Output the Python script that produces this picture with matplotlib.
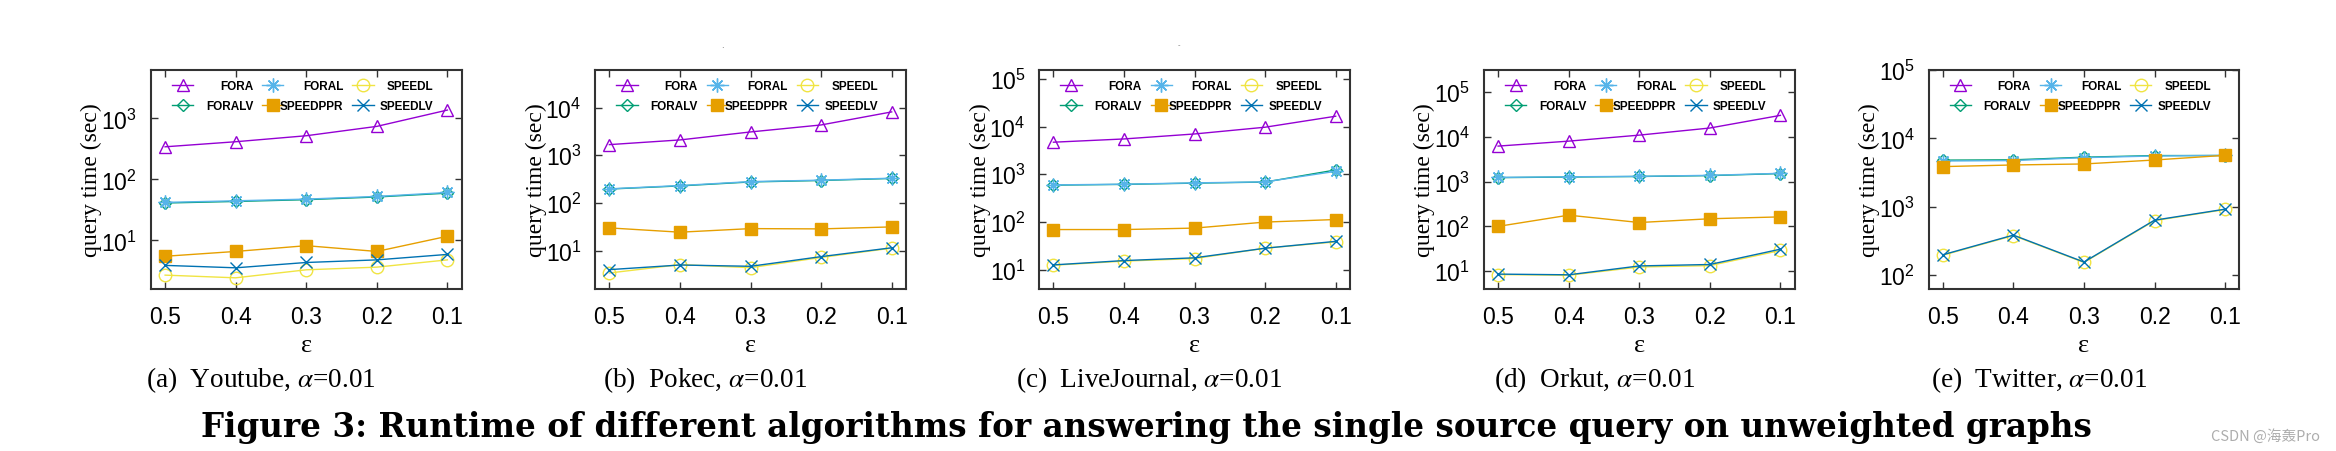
"""Figure 3: single-source query runtime on unweighted graphs."""
import matplotlib
matplotlib.use("Agg")
import matplotlib.pyplot as plt
import numpy as np
from matplotlib.ticker import LogLocator, NullLocator, LogFormatterSciNotation

plt.rcParams["mathtext.fontset"] = "stix"

eps_labels = ["0.5", "0.4", "0.3", "0.2", "0.1"]
methods = ["FORA", "FORALV", "FORAL", "SPEEDPPR", "SPEEDL", "SPEEDLV"]

# Youtube
yt_fora = [342, 414, 519, 739, 1368]
yt_foral = [42, 44.6, 47.5, 52.6, 61]
yt_foralv = [41, 43.5, 46.5, 51.5, 59.5]
yt_speedppr = [5.5, 6.6, 8.2, 6.6, 11.7]
yt_speedl = [2.7, 2.44, 3.3, 3.65, 4.8]
yt_speedlv = [3.9, 3.56, 4.35, 4.8, 5.9]

# Pokec
pk_fora = [1675, 2100, 3090, 4330, 8130]
pk_foral = [198, 232, 281, 301, 331]
pk_foralv = [196, 228, 276, 296, 327]
pk_speedppr = [30, 24.4, 29, 28.6, 31.5]
pk_speedl = [3.4, 5.1, 4.4, 7.2, 11.3]
pk_speedlv = [4.0, 5.0, 4.7, 7.5, 11.5]

# LiveJournal
lj_fora = [4700, 5500, 7000, 9700, 16500]
lj_foral = [597, 618, 658, 691, 1150]
lj_foralv = [590, 612, 650, 685, 1230]
lj_speedppr = [69, 69, 74, 99, 112]
lj_speedl = [12.3, 15, 17, 28, 38]
lj_speedlv = [12.5, 15.4, 17.6, 28, 39]

# Orkut
ok_fora = [6200, 8000, 10900, 15700, 30100]
ok_foral = [1240, 1280, 1310, 1380, 1530]
ok_foralv = [1225, 1265, 1300, 1360, 1510]
ok_speedppr = [100, 178, 122, 148, 163]
ok_speedl = [8.4, 8.1, 12.4, 13.3, 29]
ok_speedlv = [8.6, 8.3, 13.1, 14.1, 31]

# Twitter (FORA did not finish)
tw_fora = [None, None, None, None, None]
tw_foral = [4660, 4730, 5220, 5520, 5650]
tw_foralv = [4800, 4850, 5300, 5600, 5600]
tw_speedppr = [3860, 4080, 4220, 4820, 5650]
tw_speedl = [195, 378, 153, 625, 910]
tw_speedlv = [198, 384, 155, 635, 920]

captions = ["(a)  Youtube, ", "(b)  Pokec, ", "(c)  LiveJournal, ",
            "(d)  Orkut, ", "(e)  Twitter, "]
ylims = [(1.6, 6200), (1.57, 61500), (3.9, 154000), (4.0, 310000),
         (62.5, 1.0e5)]
panels = [
    [yt_fora, yt_foralv, yt_foral, yt_speedppr, yt_speedl, yt_speedlv],
    [pk_fora, pk_foralv, pk_foral, pk_speedppr, pk_speedl, pk_speedlv],
    [lj_fora, lj_foralv, lj_foral, lj_speedppr, lj_speedl, lj_speedlv],
    [ok_fora, ok_foralv, ok_foral, ok_speedppr, ok_speedl, ok_speedlv],
    [tw_fora, tw_foralv, tw_foral, tw_speedppr, tw_speedl, tw_speedlv],
]

styles = {
    "FORA": dict(color="#9400D3", marker="^", ms=9, mfc="none"),
    "FORALV": dict(color="#009E73", marker="D", ms=6.5, mfc="none"),
    "FORAL": dict(color="#56B4E9", marker=(8, 2, 0), ms=10, mfc="none"),
    "SPEEDPPR": dict(color="#E69F00", marker="s", ms=8, mfc="#E69F00"),
    "SPEEDL": dict(color="#F0E442", marker="o", ms=9, mfc="none"),
    "SPEEDLV": dict(color="#0072B2", marker="x", ms=9, mfc="none"),
}
draw_order = ["FORA", "FORALV", "FORAL", "SPEEDPPR", "SPEEDL", "SPEEDLV"]

W, H = 2336, 452
fig = plt.figure(figsize=(W / 100, H / 100), dpi=100)
lefts = [151, 595.3, 1039.3, 1484, 1928.7]
ax_w, ax_top, ax_bot = 310.5, 71, 290
x = np.arange(1, 6)

axes = []
for i, (left, series) in enumerate(zip(lefts, panels)):
    ax = fig.add_axes([left / W, 1 - ax_bot / H, ax_w / W, (ax_bot - ax_top) / H])
    axes.append(ax)
    lines = {}
    for name in draw_order:
        vals = np.array([np.nan if v is None else v
                         for v in series[methods.index(name)]], dtype=float)
        st = styles[name]
        (ln,) = ax.plot(x, vals, color=st["color"], marker=st["marker"],
                        ms=st["ms"], mfc=st["mfc"], mec=st["color"],
                        mew=1.0, lw=1.0, label=name)
        lines[name] = ln
    ax.set_yscale("log")
    ax.set_xlim(0.8, 5.2)
    ax.set_ylim(*ylims[i])
    ax.yaxis.set_major_locator(LogLocator(base=10, numticks=10))
    ax.yaxis.set_major_formatter(LogFormatterSciNotation())
    ax.yaxis.set_minor_locator(NullLocator())
    ax.set_xticks(x)
    ax.set_xticklabels(eps_labels)
    ax.tick_params(direction="in", top=True, right=True, length=5, width=1,
                   color="#333333", labelsize=16.5, pad=10)
    ax.tick_params(axis="x", pad=11.5)
    for lab in ax.get_xticklabels() + ax.get_yticklabels():
        lab.set_family("Liberation Sans")
    for sp in ax.spines.values():
        sp.set_linewidth(1.5)
        sp.set_color("#333333")
    ax.set_xlabel("ε", family="Liberation Serif", fontsize=19, labelpad=4)
    ax.set_ylabel("query time (sec)", family="Liberation Serif", fontsize=17)
    ax.yaxis.set_label_coords(-0.157, 0.5)
    hs = [lines[m] for m in methods]
    leg = ax.legend(hs, methods, ncol=3, loc="upper left",
                    bbox_to_anchor=(21 / ax_w, 1 - 10 / (ax_bot - ax_top)),
                    frameon=False, borderpad=0, borderaxespad=0,
                    prop=dict(family="Liberation Sans", weight="bold", size=8.5),
                    handlelength=1.8, handletextpad=0.3, columnspacing=0.76,
                    labelspacing=0.68, numpoints=1)
    cx = (left + ax_w / 2 - 45) / W
    fig.text(cx, 1 - 380 / H, captions[i] + r"$\alpha$=0.01",
             ha="center", va="center", family="Liberation Serif", fontsize=19.6)

# gnuplot-style keys: text right-justified within a fixed column width
fig.canvas.draw()
r = fig.canvas.get_renderer()
dpicor = r.points_to_pixels(1.0)
for ax in axes:
    leg = ax.get_legend()
    for col in leg._legend_handle_box.get_children():
        for item in col.get_children():
            txt = item.get_children()[1]
            w = txt.get_window_extent(r).width
            item.sep = (60 - w) / dpicor

fig.text(1146 / W, 1 - 437 / H,
         "Figure 3: Runtime of different algorithms for answering the single "
         "source query on unweighted graphs",
         ha="center", va="baseline", family="DejaVu Serif",
         fontweight="bold", fontsize=23.5)
fig.text(722 / W, 1 - 45 / H, ".", ha="center", va="center", fontsize=6,
         color="#555555")
fig.text(1179 / W, 1 - 45 / H, "-", ha="center", va="center", fontsize=5,
         color="#777777")
fig.text(2320 / W, 1 - 436 / H, "CSDN @海轰Pro", ha="right", va="center",
         family=["Noto Sans CJK SC", "DejaVu Sans"], fontsize=10.5,
         color="#adadad")

fig.savefig("out.png", dpi=100)
